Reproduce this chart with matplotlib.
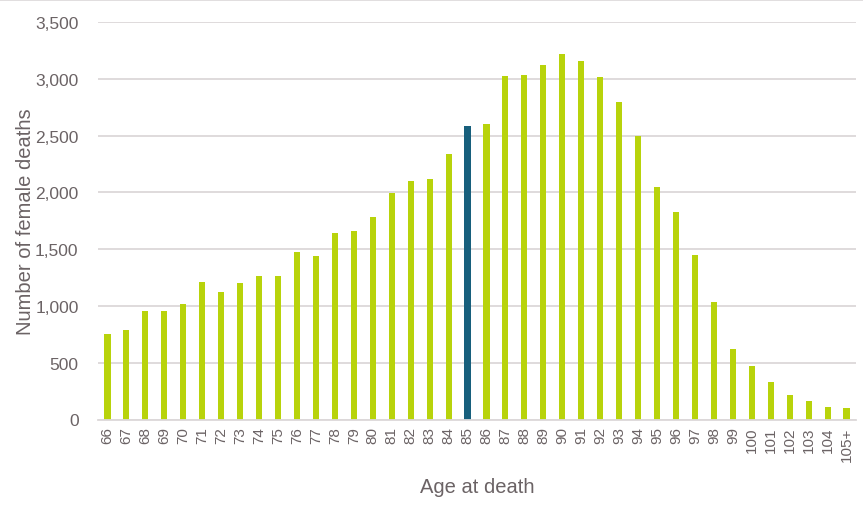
"""Female deaths by age at death"""

from matplotlib import pyplot as plt
from matplotlib.ticker import FuncFormatter

ages = [str(a) for a in range(66, 105)] + ["105+"]
deaths = [750, 788, 955, 955, 1014, 1210, 1122, 1201, 1260, 1260,
          1471, 1436, 1639, 1656, 1779, 1990, 2096, 2122, 2342, 2580,
          2606, 3028, 3037, 3125, 3221, 3159, 3019, 2799, 2500, 2043,
          1823, 1445, 1032, 618, 469, 328, 214, 161, 108, 99]
highlight_age = "85"

bar_color = "#b8d30b"
highlight_color = "#175f7c"
text_color = "#6b6365"
grid_color = "#dcd8d9"

plt.rcParams['font.family'] = ['Liberation Sans', 'DejaVu Sans']

fig = plt.figure(figsize=(8.63, 5.06), dpi=100)
ax = fig.add_axes([98 / 863, 1 - 420.5 / 506, 758 / 863, 397.5 / 506])

colors = [highlight_color if a == highlight_age else bar_color for a in ages]
x = range(len(ages))
ax.bar(x, deaths, width=0.32, color=colors, zorder=2)

ax.set_xlim(-0.5, len(ages) - 0.5)
ax.set_ylim(0, 3500)
ax.set_yticks(range(0, 3501, 500))
ax.yaxis.set_major_formatter(FuncFormatter(lambda v, _: f"{int(v):,}"))
ax.set_xticks(list(x))
ax.set_xticklabels(ages, rotation=90)

ax.grid(True, axis='y', color=grid_color, linewidth=1.3, zorder=0)
for side in ['top', 'right', 'left']:
    ax.spines[side].set_visible(False)
ax.spines['bottom'].set_color(grid_color)
ax.spines['bottom'].set_linewidth(1.3)
ax.tick_params(axis='both', length=0, colors=text_color)
ax.tick_params(axis='y', labelsize=12.5, pad=14)
ax.tick_params(axis='x', labelsize=11, pad=5)

ax.set_ylabel("Number of female deaths", fontsize=14.5, color=text_color, labelpad=0)
ax.set_xlabel("Age at death", fontsize=14.5, color=text_color, labelpad=12)

# thin frame line along the top of the chart area
fig.add_artist(plt.Line2D([0, 1], [0.998, 0.998], color=grid_color, linewidth=1.2,
                          transform=fig.transFigure))

fig.savefig("out.png", dpi=100)
plt.close(fig)
